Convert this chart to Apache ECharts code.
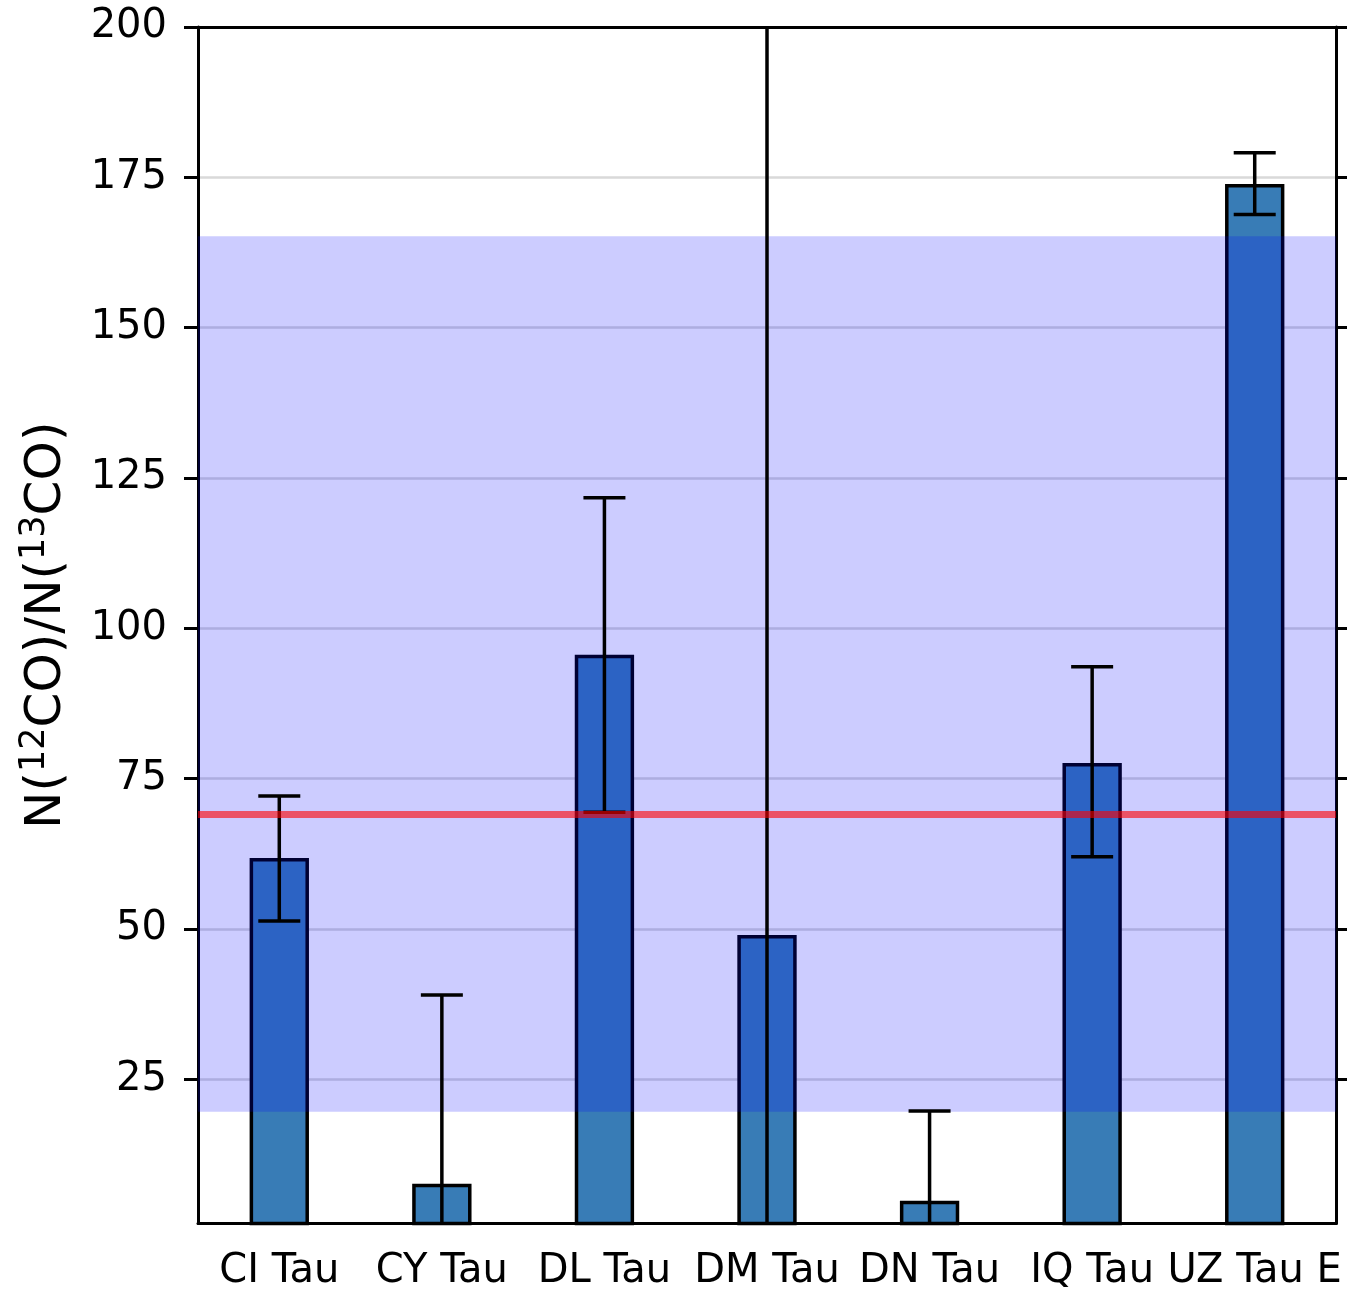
<!DOCTYPE html>
<html>
<head>
<meta charset="utf-8">
<script src="https://cdn.jsdelivr.net/npm/echarts@6/dist/echarts.min.js"></script>
<style>
  html, body { margin: 0; padding: 0; background: #fff; }
  #chart { width: 1347px; height: 1292px; }
</style>
</head>
<body>
<div id="chart"></div>
<script>
// data
const categories = ['CI Tau', 'CY Tau', 'DL Tau', 'DM Tau', 'DN Tau', 'IQ Tau', 'UZ Tau E']
const ratios = [61.8, 7.6, 95.6, 49.0, 4.8, 77.6, 173.9]
const errLow = [51.3, -24, 69.4, -250, -10.5, 62.0, 168.8]
const errHigh = [72.1, 39.0, 121.7, 350, 19.7, 93.6, 179.1]
const yTicks = [25, 50, 75, 100, 125, 150, 175, 200]
const bandRange = [19.6, 165.2]
const refLine = 69.0

const font = 'DejaVu Sans'
const chart = echarts.init(document.getElementById('chart'), null, { renderer: 'canvas' })

const errData = categories.map((c, i) => [i, errLow[i], errHigh[i]])

chart.setOption({
  animation: false,
  backgroundColor: '#fff',
  grid: { left: 198, right: 11, top: 27, bottom: 68.5, outerBoundsMode: 'none', containLabel: false },
  xAxis: [
    {
      type: 'category',
      data: categories,
      position: 'bottom',
      axisLine: { lineStyle: { color: '#000', width: 3 } },
      axisTick: { show: false },
      axisLabel: { color: '#000', fontSize: 40, fontFamily: font, margin: 28, interval: 0 }
    },
    {
      type: 'category',
      data: categories,
      position: 'top',
      axisLine: { lineStyle: { color: '#000', width: 3 } },
      axisTick: { show: false },
      axisLabel: { show: false }
    }
  ],
  yAxis: [
    {
      type: 'value',
      min: 1,
      max: 200,
      position: 'left',
      name: '{m|N(}{s|12}{m|CO)/N(}{s|13}{m|CO)}',
      nameLocation: 'middle',
      nameGap: 121,
      nameTextStyle: {
        rich: {
          m: { fontSize: 50, fontFamily: font, color: '#000', lineHeight: 60 },
          s: { fontSize: 35, fontFamily: font, color: '#000', lineHeight: 36, verticalAlign: 'top' }
        }
      },
      axisLine: { show: true, lineStyle: { color: '#000', width: 3 } },
      axisTick: { show: true, length: 14, lineStyle: { color: '#000', width: 3 }, customValues: yTicks },
      axisLabel: { color: '#000', fontSize: 40, fontFamily: font, margin: 31, customValues: yTicks },
      splitLine: { show: true, lineStyle: { color: '#d9d9d9', width: 2.5 } }
    },
    {
      type: 'value',
      min: 1,
      max: 200,
      position: 'right',
      axisLine: { show: true, lineStyle: { color: '#000', width: 3 } },
      axisTick: { show: true, length: 12, lineStyle: { color: '#000', width: 3 }, customValues: yTicks },
      axisLabel: { show: false, customValues: yTicks },
      splitLine: { show: false }
    }
  ],
  series: [
    {
      name: 'ratio',
      type: 'bar',
      data: ratios,
      barWidth: '36.5%',
      z: 2,
      itemStyle: { color: '#387cb6', borderColor: '#000', borderWidth: 3.5 }
    },
    {
      name: 'band',
      type: 'custom',
      data: [bandRange],
      z: 3,
      silent: true,
      renderItem(params, api) {
        const cs = params.coordSys
        const y1 = api.coord([0, api.value(1)])[1]
        const y0 = api.coord([0, api.value(0)])[1]
        return {
          type: 'rect',
          shape: { x: cs.x, y: y1, width: cs.width, height: y0 - y1 },
          style: { fill: 'rgba(0,0,255,0.2)' }
        }
      }
    },
    {
      name: 'err',
      type: 'custom',
      data: errData,
      z: 4,
      renderItem(params, api) {
        const cs = params.coordSys
        const top = cs.y
        const bottom = cs.y + cs.height
        const lo = api.coord([api.value(0), api.value(1)])
        const hi = api.coord([api.value(0), api.value(2)])
        const x = lo[0]
        const half = 21
        const style = { stroke: '#000', lineWidth: 3.5 }
        const clamp = v => Math.max(top, Math.min(bottom, v))
        const children = [{
          type: 'line',
          shape: { x1: x, y1: clamp(lo[1]), x2: x, y2: clamp(hi[1]) },
          style
        }]
        if (lo[1] >= top && lo[1] <= bottom) {
          children.push({ type: 'line', shape: { x1: x - half, y1: lo[1], x2: x + half, y2: lo[1] }, style })
        }
        if (hi[1] >= top && hi[1] <= bottom) {
          children.push({ type: 'line', shape: { x1: x - half, y1: hi[1], x2: x + half, y2: hi[1] }, style })
        }
        return { type: 'group', children }
      }
    },
    {
      name: 'ref',
      type: 'line',
      data: [],
      z: 5,
      markLine: {
        silent: true,
        symbol: 'none',
        label: { show: false },
        lineStyle: { color: 'rgba(255,0,0,0.6)', width: 7, type: 'solid' },
        data: [{ yAxis: refLine }]
      }
    }
  ]
})
</script>
</body>
</html>
